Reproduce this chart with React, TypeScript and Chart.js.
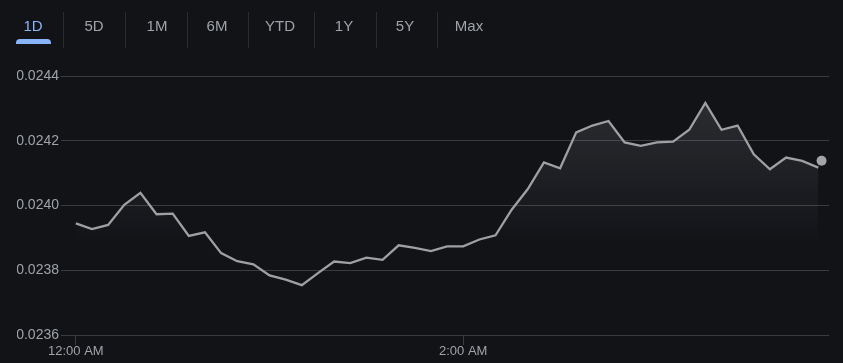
import React, { useEffect, useRef } from "react";
import { Chart, registerables } from "chart.js";

Chart.register(...registerables);

const tabLabels = ["1D", "5D", "1M", "6M", "YTD", "1Y", "5Y", "Max"];
const selectedTab = "1D";

// minutes after 12:00 AM
const minutes = [
  0, 5, 10, 15, 20, 25, 30, 35, 40, 45, 50, 55, 60, 65, 70, 75, 80, 85, 90, 95,
  100, 105, 110, 115, 120, 125, 130, 135, 140, 145, 150, 155, 160, 165, 170,
  175, 180, 185, 190, 195, 200, 205, 210, 215, 220, 225, 230,
];
const prices = [
  0.023945, 0.023927, 0.02394, 0.024002, 0.024039, 0.023973, 0.023975,
  0.023906, 0.023917, 0.023853, 0.023828, 0.023818, 0.023784, 0.023771,
  0.023754, 0.023791, 0.023827, 0.023822, 0.023839, 0.023832, 0.023877,
  0.023869, 0.023859, 0.023874, 0.023874, 0.023895, 0.023908, 0.023987,
  0.024051, 0.024133, 0.024115, 0.024226, 0.024247, 0.024261, 0.024195,
  0.024184, 0.024195, 0.024197, 0.024234, 0.024317, 0.024234, 0.024247,
  0.024158, 0.024112, 0.024148, 0.024138, 0.024117,
];
const currentMinute = [231];
const currentPrice = [0.024138];

const xTickValues = [0, 120];
const xTickLabels = ["12:00 AM", "2:00 AM"];
const yMin = 0.0236;
const yMax = 0.0244;
const yStep = 0.0002;

const BG = "#121317";
const GRID = "#3a3c40";
const TEXT = "#9fa3a8";
const LINE = "#a0a0a2";
const BLUE = "#8ab4f8";

const tabCenters = [33, 94, 157, 217, 280, 344, 405, 469];
const separators = [63, 125, 187, 248, 314, 376, 437];

export default function App() {
  const ref = useRef<HTMLCanvasElement | null>(null);

  useEffect(() => {
    if (!ref.current) return;
    const chart = new Chart(ref.current, {
      type: "line",
      data: {
        datasets: [
          {
            data: currentMinute.map((m, i) => ({ x: m, y: currentPrice[i] })),
            showLine: false,
            pointRadius: 5,
            pointBackgroundColor: "#a4a4a6",
            pointBorderWidth: 0,
            order: 0,
          },
          {
            data: minutes.map((m, i) => ({ x: m, y: prices[i] })),
            borderColor: LINE,
            borderWidth: 2.3,
            pointRadius: 0,
            tension: 0,
            fill: "start",
            order: 1,
            backgroundColor: (context: any) => {
              const { ctx, chartArea } = context.chart;
              if (!chartArea) return "rgba(0,0,0,0)";
              const g = ctx.createLinearGradient(0, chartArea.top, 0, chartArea.bottom);
              g.addColorStop(0, "rgba(170,172,180,0.2)");
              g.addColorStop(0.66, "rgba(170,172,180,0)");
              g.addColorStop(1, "rgba(170,172,180,0)");
              return g;
            },
          },
        ],
      },
      options: {
        animation: false,
        responsive: false,
        maintainAspectRatio: false,
        layout: { padding: { left: 17, right: 14, top: 76, bottom: 0 } },
        plugins: { legend: { display: false }, tooltip: { enabled: false } },
        scales: {
          x: {
            type: "linear",
            min: -4.6,
            max: 233.3,
            afterBuildTicks: (scale: any) => {
              scale.ticks = xTickValues.map((v) => ({ value: v }));
            },
            afterFit: (scale: any) => {
              scale.height = 28;
            },
            border: { display: false },
            grid: {
              drawOnChartArea: false,
              drawTicks: true,
              tickLength: 10,
              color: GRID,
            },
            ticks: {
              autoSkip: false,
              maxRotation: 0,
              padding: -1.5,
              color: TEXT,
              font: { family: "Arial, 'Liberation Sans', sans-serif", size: 13 },
              callback: (v: any) => {
                const idx = xTickValues.indexOf(Number(v));
                return idx >= 0 ? xTickLabels[idx] : "";
              },
            },
          },
          y: {
            min: yMin,
            max: yMax,
            afterFit: (scale: any) => {
              scale.width = 44;
            },
            border: { display: false },
            grid: { color: GRID, drawTicks: false, lineWidth: 1 },
            ticks: {
              stepSize: yStep,
              padding: 2,
              color: TEXT,
              font: { family: "Arial, 'Liberation Sans', sans-serif", size: 14 },
              callback: (v: any) => Number(v).toFixed(4),
            },
          },
        },
      },
    });
    return () => chart.destroy();
  }, []);

  return (
    <div
      style={{
        position: "fixed",
        left: 0,
        top: 0,
        width: 843,
        height: 363,
        background: BG,
        overflow: "hidden",
        fontFamily: "Arial, 'Liberation Sans', sans-serif",
      }}
    >
      <canvas
        ref={ref}
        width={843}
        height={363}
        style={{ position: "absolute", left: 0, top: 0, width: 843, height: 363 }}
      />
      {tabLabels.map((t, i) => (
        <div
          key={t}
          style={{
            position: "absolute",
            left: tabCenters[i] - 30,
            width: 60,
            top: 14.5,
            height: 22,
            lineHeight: "22px",
            textAlign: "center",
            fontSize: 15,
            color: t === selectedTab ? BLUE : TEXT,
          }}
        >
          {t}
        </div>
      ))}
      {separators.map((x) => (
        <div
          key={x}
          style={{
            position: "absolute",
            left: x,
            top: 12,
            width: 1,
            height: 36,
            background: "#2a2c30",
          }}
        />
      ))}
      <div
        style={{
          position: "absolute",
          left: 16,
          top: 39,
          width: 35,
          height: 5,
          background: BLUE,
          borderRadius: "4px 4px 0 0",
        }}
      />
    </div>
  );
}
